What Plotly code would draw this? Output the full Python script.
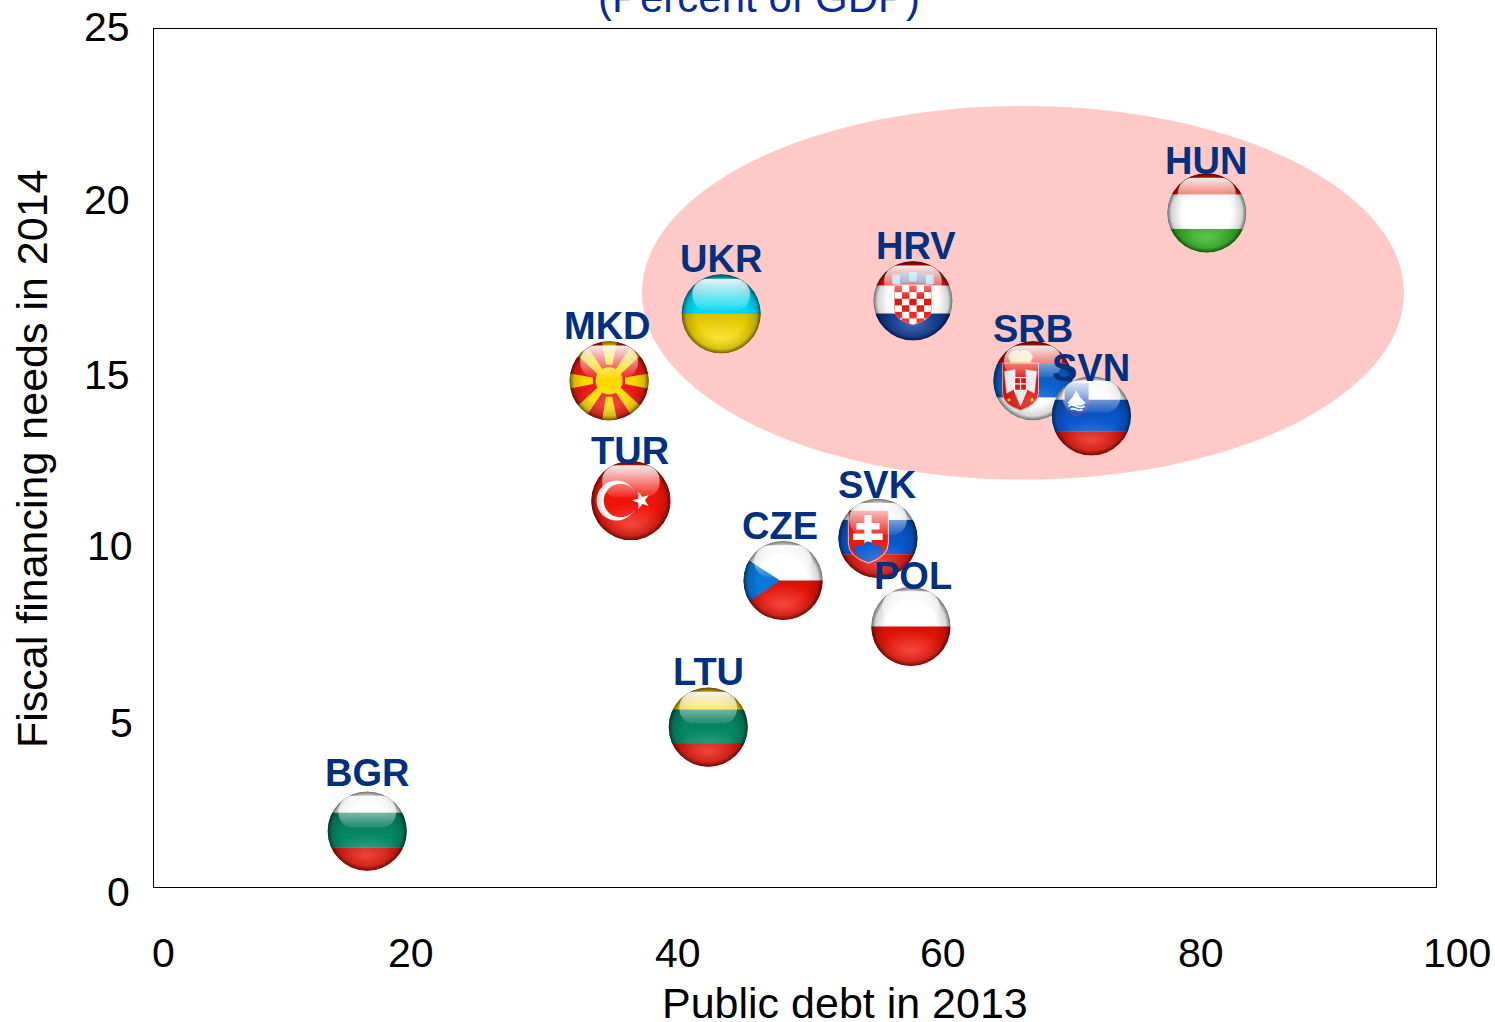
import base64
import math
import plotly.graph_objects as go

countries = ['BGR', 'LTU', 'TUR', 'MKD', 'UKR', 'HRV', 'SRB', 'SVN', 'SVK', 'CZE', 'POL', 'HUN']
public_debt = [16.63, 43.23, 37.2, 35.5, 44.24, 59.2, 68.56, 73.12, 56.47, 49.07, 59.04, 82.12]
financing_needs = [1.63, 4.66, 11.26, 14.75, 16.7, 17.08, 14.75, 13.73, 10.16, 8.93, 7.59, 19.64]

x_ticks = [0, 20, 40, 60, 80, 100]
y_ticks = [0, 5, 10, 15, 20, 25]

FONT = 'Liberation Sans'
LABEL_COLOR = '#00307f'
W, H = 1495, 1022
L, R, T, B = 154, 59, 29, 135
PLOT_W = W - L - R
PLOT_H = H - T - B
X_PX = PLOT_W / 100
Y_PX = PLOT_H / 25
FLAG_PX = 80

# label position relative to the flag centre (dx, dy in pixels)
label_shift = {
    'BGR': (0, 58), 'LTU': (0, 55), 'TUR': (-1, 50), 'MKD': (-2, 55), 'UKR': (0, 55), 'HRV': (3, 55),
    'SRB': (0, 52), 'SVN': (0, 48), 'SVK': (0, 53), 'CZE': (-3, 55), 'POL': (2, 51), 'HUN': (-1, 52),
}
# the tick labels sit a little off the true tick position in the original
x_tick_shift = [9, 1, 11, 20, 21, 21]
y_tick_shift = [5, 8, 2, 3, -1, -2]
y_tick_side = [-22, -19, -19, -22, -22, -22]


def stripes(colors, cuts):
    edges = [0] + cuts + [100]
    out = ''
    for i, c in enumerate(colors):
        h = edges[i + 1] - edges[i]
        out += f'<rect x="0" y="{edges[i]}" width="100" height="{h}" fill="{c}"/>'
        if c != '#ffffff':
            out += f'<rect x="0" y="{edges[i]}" width="100" height="{h}" fill="url(#shade)"/>'
    return out


def shield(x, y, w, h, fill, stroke='#ffffff'):
    return (f'<path d="M{x} {y} H{x+w} V{y+h*0.62} Q{x+w} {y+h*0.88} {x+w/2} {y+h} '
            f'Q{x} {y+h*0.88} {x} {y+h*0.62} Z" fill="{fill}" stroke="{stroke}" stroke-width="1"/>')


def flag_mkd():
    out = '<rect width="100" height="100" fill="#ee1a10"/>'
    rays = ['41,0 60,0 54,30 46,30', '41,100 60,100 54,70 46,70', '0,41 0,60 30,54 30,46', '100,41 100,60 70,54 70,46',
            '8,16 20,4 42,36 36,42', '92,16 80,4 58,36 64,42', '8,84 20,96 42,64 36,58', '92,84 80,96 58,64 64,58']
    for r in rays:
        out += f'<polygon points="{r}" fill="#ffd800"/>'
    return out + '<circle cx="50" cy="50" r="17" fill="#ffd800"/>'


def flag_tur():
    star = []
    for i in range(10):
        r = 11.5 if i % 2 == 0 else 4.6
        a = math.pi + i * math.pi / 5
        star.append(f'{63 + r * math.cos(a):.1f},{50 + r * math.sin(a):.1f}')
    return ('<rect width="100" height="100" fill="#f01408"/>'
            '<circle cx="32" cy="50" r="25" fill="#ffffff"/><circle cx="37" cy="50" r="21" fill="#f01408"/>'
            f'<polygon points="{" ".join(star)}" fill="#ffffff"/>')


def flag_hrv():
    out = stripes(['#e8140c', '#ffffff', '#0a3aa0'], [31, 66])
    for i, c in enumerate(['#8ad8f0', '#5070b0', '#70c8f0', '#5070b0', '#8ad8f0']):
        out += f'<rect x="{24+i*10.5}" y="{14+abs(i-2)*1.5}" width="10" height="12" fill="{c}"/>'
    out += shield(27, 30, 46, 50, '#ffffff', '#f08080')
    for r in range(6):
        for c in range(5):
            if (r + c) % 2 == 0:
                h = 8.2
                out += f'<rect x="{27+c*9.2}" y="{31+r*h}" width="9.2" height="{h}" fill="#e8140c" clip-path="url(#hshield)"/>'
    return '<clipPath id="hshield"><path d="M27 30 H73 V61 Q73 74 50 80 Q27 74 27 61 Z"/></clipPath>' + out


def flag_srb():
    out = stripes(['#e0140c', '#0a64d0', '#ffffff'], [28, 71])
    out += shield(12, 28, 45, 59, '#e0140c', '#f8d0c0')
    out += ('<path d="M19 20 Q24 8 34 13 Q44 8 50 20 L47 27 H22 Z" fill="#f4e4a8" stroke="#c8a040" stroke-width="1"/>'
            '<path d="M28 36 L14 38 L17 66 L28 60 Z M41 36 L55 38 L52 66 L41 60 Z" fill="#ececec" stroke="#999999" stroke-width="0.5"/>'
            '<path d="M26 62 L34.5 82 L43 62 Z" fill="#e4e4e4"/>'
            '<rect x="27" y="46" width="15" height="16" fill="#e0140c" stroke="#ffffff" stroke-width="1.5"/>'
            '<path d="M34.5 46 V62 M27 54 H42" stroke="#ffffff" stroke-width="1.6"/>'
            '<circle cx="20" cy="74" r="2.2" fill="#f0c020"/><circle cx="49" cy="74" r="2.2" fill="#f0c020"/>')
    return out


def flag_svn():
    out = stripes(['#ffffff', '#0a58d0', '#f81408'], [30, 70])
    out += shield(17, 9, 29, 41, '#0a58d0', '#e03030')
    out += ('<polygon points="20,34 26,27 31,18 36,27 43,34 38,37 24,37" fill="#ffffff"/>'
            '<path d="M21 38 Q26 35 31 38 T42 38 M24 42 Q28 40 31 42 T39 42" stroke="#ffffff" stroke-width="2" fill="none"/>')
    return out


def flag_svk():
    out = stripes(['#ffffff', '#0a58d0', '#f81408'], [27, 70])
    out += shield(13, 15, 50, 66, '#ee1a10', '#ffffff')
    out += ('<path d="M33 21 H42 V68 H33 Z M23 31 H52 V39 H23 Z M19 44 H56 V52 H19 Z" fill="#ffffff"/>'
            '<path d="M19 65 Q24 55 30 60 Q38 48 46 60 Q52 55 57 65 Q52 75 38 80 Q24 75 19 65 Z" fill="#0a58d0"/>')
    return out


def flag_cze():
    return stripes(['#ffffff', '#f81408'], [50]) + '<polygon points="0,20 46,50 0,82" fill="#0a78d8"/>'


flag_art = {
    'BGR': stripes(['#ffffff', '#078a66', '#f81408'], [27, 71]),
    'LTU': stripes(['#ffd400', '#078a66', '#f81408'], [28, 70]),
    'HUN': stripes(['#f01408', '#ffffff', '#34c020'], [27, 70]),
    'UKR': stripes(['#00d8f4', '#ffe000'], [50]),
    'POL': stripes(['#ffffff', '#f81408'], [50]),
    'TUR': flag_tur(),
    'MKD': flag_mkd(),
    'HRV': flag_hrv(),
    'SRB': flag_srb(),
    'SVN': flag_svn(),
    'SVK': flag_svk(),
    'CZE': flag_cze(),
}


def flag_uri(code):
    svg = f'''<svg xmlns="http://www.w3.org/2000/svg" width="200" height="200" viewBox="0 0 100 100">
<defs>
<clipPath id="ball"><circle cx="50" cy="50" r="49.5"/></clipPath>
<radialGradient id="rim"><stop offset="0.62" stop-color="#000" stop-opacity="0"/><stop offset="0.88" stop-color="#000" stop-opacity="0.16"/><stop offset="1" stop-color="#000" stop-opacity="0.62"/></radialGradient>
<radialGradient id="glow"><stop offset="0" stop-color="#fff" stop-opacity="0.22"/><stop offset="1" stop-color="#fff" stop-opacity="0"/></radialGradient>
<linearGradient id="shade" x1="0" y1="0" x2="0" y2="1"><stop offset="0" stop-color="#000" stop-opacity="0.14"/><stop offset="0.75" stop-color="#000" stop-opacity="0"/></linearGradient>
<linearGradient id="gloss" x1="0" y1="0" x2="0" y2="1"><stop offset="0" stop-color="#fff" stop-opacity="0.92"/><stop offset="1" stop-color="#fff" stop-opacity="0.08"/></linearGradient>
</defs>
<g clip-path="url(#ball)">
{flag_art[code]}
<ellipse cx="50" cy="80" rx="44" ry="26" fill="url(#glow)"/>
<circle cx="50" cy="50" r="50" fill="url(#rim)"/>
<rect x="14" y="6" width="72" height="40" rx="19" fill="url(#gloss)"/>
</g></svg>'''
    return 'data:image/svg+xml;base64,' + base64.b64encode(svg.encode()).decode()


fig = go.Figure()

# invisible trace so the axes are driven by the data
fig.add_trace(go.Scatter(x=public_debt, y=financing_needs, mode='markers', marker=dict(size=1, opacity=0),
                         text=countries, hoverinfo='text', showlegend=False))

fig.add_shape(type='circle', xref='x', yref='y', x0=38.06, x1=97.5, y0=11.87, y1=22.76,
              fillcolor='#ffc9c7', line_width=0, layer='below')

for code, xv, yv in zip(countries, public_debt, financing_needs):
    fig.add_layout_image(source=flag_uri(code), xref='x', yref='y', x=xv, y=yv,
                         sizex=FLAG_PX / X_PX, sizey=FLAG_PX / Y_PX, xanchor='center', yanchor='middle',
                         sizing='stretch', layer='above')
    dx, dy = label_shift[code]
    fig.add_annotation(x=xv, y=yv, text=code, showarrow=False, xshift=dx, yshift=dy,
                       font=dict(family=FONT, size=38, color=LABEL_COLOR, weight='bold'))

for val, shift in zip(x_ticks, x_tick_shift):
    fig.add_annotation(x=val, y=0, text=str(val), showarrow=False, xshift=shift, yshift=-66,
                       font=dict(family=FONT, size=41, color='black'))
for val, shift, side in zip(y_ticks, y_tick_shift, y_tick_side):
    fig.add_annotation(x=0, y=val, text=str(val), showarrow=False, xanchor='right', xshift=side, yshift=-shift,
                       font=dict(family=FONT, size=41, color='black'))

fig.add_annotation(x=(845 - L) / PLOT_W, y=1 - (1003 - T) / PLOT_H, xref='paper', yref='paper',
                   xanchor='center', yanchor='middle', text='Public debt in 2013', showarrow=False,
                   font=dict(family=FONT, size=43, color='black'))
fig.add_annotation(x=(32 - L) / PLOT_W, y=1 - (459 - T) / PLOT_H, xref='paper', yref='paper',
                   xanchor='center', yanchor='middle', text='Fiscal financing needs in 2014', textangle=-90,
                   showarrow=False, font=dict(family=FONT, size=43, color='black'))
fig.add_annotation(x=(759 - L) / PLOT_W, y=1, xref='paper', yref='paper', text='(Percent of GDP)', showarrow=False,
                   yanchor='bottom', yshift=6, font=dict(family=FONT, size=42, color='#0a2a9a'))

fig.update_xaxes(range=[0, 100], tickvals=x_ticks, showticklabels=False, ticks='', showgrid=False, zeroline=False,
                 showline=True, mirror=True, linecolor='black', linewidth=1)
fig.update_yaxes(range=[0, 25], tickvals=y_ticks, showticklabels=False, ticks='', showgrid=False, zeroline=False,
                 showline=True, mirror=True, linecolor='black', linewidth=1)
fig.update_layout(width=W, height=H, margin=dict(l=L, r=R, t=T, b=B), plot_bgcolor='white', paper_bgcolor='white',
                  showlegend=False)

fig.write_html('out.html', config=dict(displayModeBar=False), post_script="document.body.style.margin='0';")
